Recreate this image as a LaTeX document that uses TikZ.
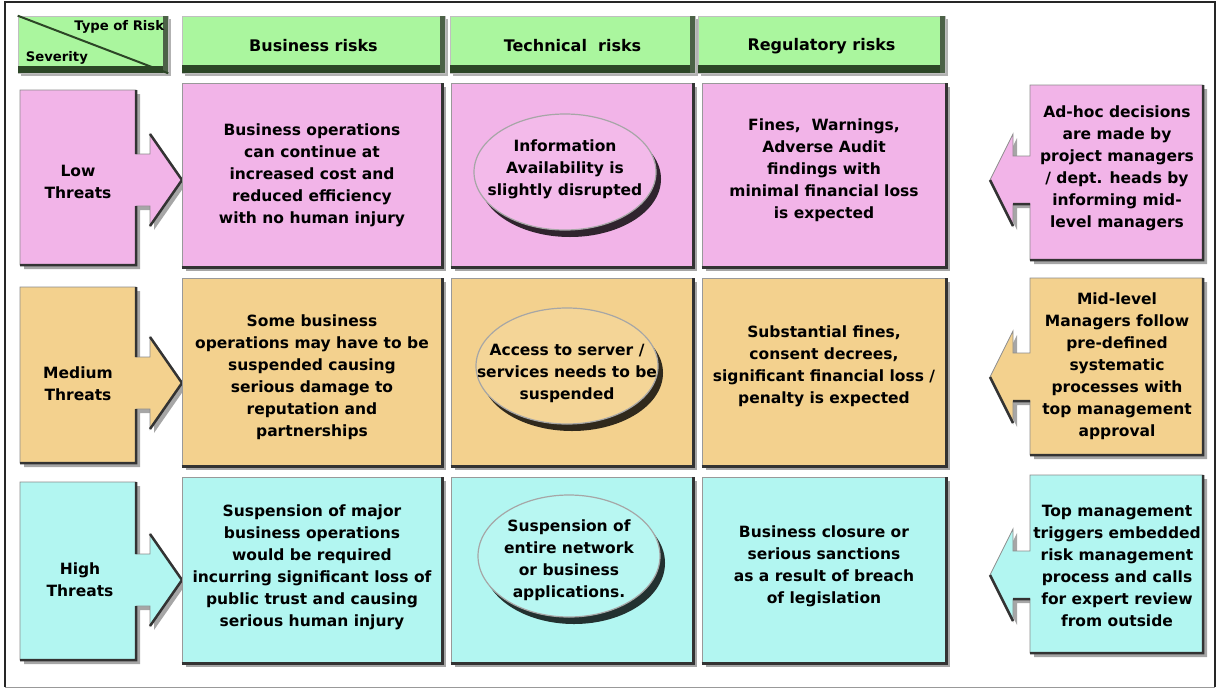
\documentclass[tikz,border=0pt]{standalone}
\usepackage{fontspec}
\setmainfont{DejaVu Sans}
\usetikzlibrary{shapes.geometric,shadows}

\definecolor{hdgreen}{RGB}{170,246,158}
\definecolor{hddark}{RGB}{44,70,38}
\definecolor{lowpink}{RGB}{242,180,232}
\definecolor{medtan}{RGB}{243,209,142}
\definecolor{highcyan}{RGB}{178,246,241}

\tikzset{
  txt/.style={font=\bfseries\fontsize{15.5}{22}\selectfont, align=center, text=black, inner sep=0pt},
  cell/.style={draw=black!40, line width=0.8pt, inner sep=0pt,
    drop shadow={shadow xshift=4pt, shadow yshift=-4pt, fill=black, opacity=0.35}},
  hdbox/.style={fill=hdgreen, draw=black!25, line width=0.6pt, inner sep=0pt,
    minimum height=57, drop shadow={shadow xshift=3pt, shadow yshift=-3pt, fill=black, opacity=0.3}},
  lens/.style={ellipse, draw=black!35, line width=1.2pt, inner sep=0pt,
    minimum width=182, minimum height=116,
    drop shadow={shadow xshift=5pt, shadow yshift=-7pt, fill=black, opacity=0.8}},
  arrowbox/.style={draw=black!45, line width=0.8pt,
    drop shadow={shadow xshift=4pt, shadow yshift=-4pt, fill=black, opacity=0.35}},
  darkedge/.style={draw=black!80, line width=3pt},
}

\begin{document}
\begin{tikzpicture}[x=1pt, y=-1pt]
\useasboundingbox (0,0) rectangle (1217,689);

% 外框
\draw[black!85, line width=1.5pt] (5,687) -- (5,2) -- (1215,2) -- (1215,687);
\draw[black!40, line width=1pt] (5,687) -- (1215,687);

% 左侧方框 + 向右箭头: #1 上, #2 下, #3 箭头 y, #4 颜色
\newcommand{\sevbox}[4]{
  \draw[arrowbox, fill=#4] (20,#1) -- (136,#1) -- (136,#3-26) -- (150,#3-26) -- (150,#3-46)
    -- (182,#3) -- (150,#3+46) -- (150,#3+26) -- (136,#3+26) -- (136,#2) -- (20,#2) -- cycle;
  \draw[darkedge, line width=2.5pt] (136,#1) -- (136,#3-26) (150,#3-46) -- (182,#3) -- (150,#3+46)
    (136,#3+26) -- (136,#2) -- (20,#2);
}
% 右侧方框 + 向左箭头
\newcommand{\actbox}[4]{
  \draw[arrowbox, fill=#4] (1203,#1) -- (1030,#1) -- (1030,#3-24) -- (1013,#3-24) -- (1013,#3-46)
    -- (990,#3) -- (1013,#3+46) -- (1013,#3+24) -- (1030,#3+24) -- (1030,#2) -- (1203,#2) -- cycle;
  \draw[darkedge, line width=2.5pt] (1203,#1) -- (1203,#2) -- (1030,#2)
    (990,#3) -- (1013,#3+46) (1013,#3+24) -- (1030,#3+24);
}

% 表头
\node[hdbox, minimum width=150] (corner) at (93,44.5) {};
\foreach \n/\cx/\w/\lab in {bizhd/313.5/263/Business risks,
    techhd/572.5/245/Technical\ \ risks, reghd/821.5/247/Regulatory risks} {
  \node[hdbox, minimum width=\w] (\n) at (\cx,44.5) {};
  \fill[hddark] (\n.south west) rectangle ([yshift=8pt]\n.south east);
  \fill[hddark!85] ([xshift=-5pt]\n.north east) rectangle (\n.south east);
  \node[txt, font=\bfseries\fontsize{16}{20}\selectfont] at ([yshift=-1.5pt]\n.center) {\lab};
}
\fill[hddark] (corner.south west) rectangle ([yshift=7pt]corner.south east);
\fill[hddark!85] ([xshift=-5pt]corner.north east) rectangle (corner.south east);
\draw[hddark, line width=2pt] (corner.north west) -- (corner.south east);
\node[txt, font=\bfseries\fontsize{13.2}{15}\selectfont, anchor=north east] (risktype)
  at ([xshift=-4pt, yshift=-5pt]corner.north east) {Type of Risk};
\node[txt, font=\bfseries\fontsize{13.2}{15}\selectfont, anchor=south west] (severity)
  at ([xshift=8pt, yshift=9pt]corner.south west) {Severity};

% 左列: 严重程度
\sevbox{90}{265}{180}{lowpink}
\sevbox{287}{463}{383}{medtan}
\sevbox{482}{660}{580}{highcyan}
\node[txt] (lowsev) at (78,182) {Low\\Threats};
\node[txt] (medsev) at (78,384) {Medium\\Threats};
\node[txt] (highsev) at (80,580) {High\\Threats};

% 右列: 处理方式
\actbox{85}{260}{180}{lowpink}
\actbox{278}{455}{377}{medtan}
\actbox{475}{653}{575}{highcyan}
\node[txt] (lowact) at (1117,168) {Ad-hoc decisions\\are made by\\project managers\\/ dept. heads by\\informing mid-\\level managers};
\node[txt] (medact) at (1117,366) {Mid-level\\Managers follow\\pre-defined\\systematic\\processes with\\top management\\approval};
\node[txt] (highact) at (1117,566) {Top management\\triggers embedded\\risk management\\process and calls\\for expert review\\from outside};

% 中间九格
\node[cell, fill=lowpink, minimum width=260, minimum height=184] (lowbiz) at (312,175) {};
\node[cell, fill=lowpink, minimum width=242, minimum height=184] (lowtech) at (572,175) {};
\node[cell, fill=lowpink, minimum width=244, minimum height=184] (lowreg) at (824,175) {};
\node[cell, fill=medtan, minimum width=260, minimum height=188] (medbiz) at (312,372) {};
\node[cell, fill=medtan, minimum width=242, minimum height=188] (medtech) at (572,372) {};
\node[cell, fill=medtan, minimum width=244, minimum height=188] (medreg) at (824,372) {};
\node[cell, fill=highcyan, minimum width=260, minimum height=186] (highbiz) at (312,570) {};
\node[cell, fill=highcyan, minimum width=242, minimum height=186] (hightech) at (572,570) {};
\node[cell, fill=highcyan, minimum width=244, minimum height=186] (highreg) at (824,570) {};
\foreach \n in {lowbiz,lowtech,lowreg,medbiz,medtech,medreg,highbiz,hightech,highreg}
  \draw[darkedge] (\n.south west) -- (\n.south east) -- (\n.north east);

% 技术风险: 椭圆
\node[lens, fill=lowpink!92!white] (lowlens) at (565,172) {};
\node[lens, fill=medtan!92!white] (medlens) at (567,366) {};
\node[lens, fill=highcyan!92!white, minimum height=122] (highlens) at (569,556) {};

% 格内文字
\node[txt] (lowbiztxt) at (lowbiz) {Business operations\\can continue at\\increased cost and\\reduced efficiency\\with no human injury};
\node[txt] (lowlenstxt) at (565,169) {Information\\Availability is\\slightly disrupted};
\node[txt] (lowregtxt) at (824,170) {Fines,\ \ Warnings,\\Adverse Audit\\findings with\\minimal financial loss\\is expected};
\node[txt] (medbiztxt) at (312,377) {Some business\\operations may have to be\\suspended causing\\serious damage to\\reputation and\\partnerships};
\node[txt] (medlenstxt) at (567,373) {Access to server /\\services needs to be\\suspended};
\node[txt] (medregtxt) at (824,366) {Substantial fines,\\consent decrees,\\significant financial loss /\\penalty is expected};
\node[txt] (highbiztxt) at (312,567) {Suspension of major\\business operations\\would be required\\incurring significant loss of\\public trust and causing\\serious human injury};
\node[txt] (highlenstxt) at (569,560) {Suspension of\\entire network\\or business\\applications.};
\node[txt] (highregtxt) at (824,566) {Business closure or\\serious sanctions\\as a result of breach\\of legislation};

\end{tikzpicture}
\end{document}
